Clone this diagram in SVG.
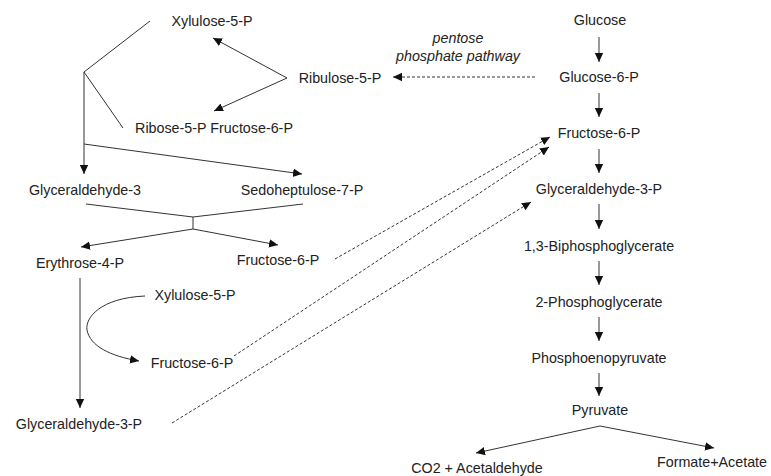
<svg xmlns="http://www.w3.org/2000/svg" width="771" height="476" viewBox="0 0 771 476">
<defs>
<marker id="ah" markerWidth="10" markerHeight="10" refX="9" refY="5" orient="auto" markerUnits="userSpaceOnUse">
<path d="M0,0.8 L9,5 L0,9.2 Z" fill="#111"/>
</marker>
<style>
text{font-family:"Liberation Sans",Arial,sans-serif;font-size:14.3px;fill:#222;text-anchor:middle;dominant-baseline:central}
.it{font-style:italic}
.c line,.c path,.c polyline{stroke:#333;stroke-width:1;fill:none}
.d{stroke-dasharray:3,2}
.a{marker-end:url(#ah)}
</style>
</defs>
<rect width="771" height="476" fill="#fff"/>
<g class="c" id="connectors">
<line class="a" x1="599" y1="37" x2="599" y2="62"/>
<line class="a" x1="599" y1="93" x2="599" y2="117"/>
<line class="a" x1="599" y1="149" x2="599" y2="173"/>
<line class="a" x1="599" y1="204" x2="599" y2="229"/>
<line class="a" x1="599" y1="261" x2="599" y2="285"/>
<line class="a" x1="599" y1="317" x2="599" y2="341"/>
<line class="a" x1="599" y1="373" x2="599" y2="396"/>
<line class="a" x1="600" y1="426" x2="476" y2="453"/>
<line class="a" x1="600" y1="426" x2="714" y2="448"/>
<line class="a d" x1="535" y1="77" x2="393" y2="77"/>
<line class="a" x1="287" y1="78" x2="213" y2="38"/>
<line class="a" x1="287" y1="78" x2="214" y2="111"/>
<polyline points="150,21 84,72 123,128"/>
<line class="a" x1="84" y1="72" x2="84" y2="174"/>
<line class="a" x1="84" y1="144" x2="302" y2="174"/>
<polyline points="86,204 193,217 303,204"/>
<line x1="193" y1="217" x2="193" y2="229"/>
<line class="a" x1="193" y1="229" x2="81" y2="247"/>
<line class="a" x1="193" y1="229" x2="278" y2="245"/>
<line class="a" x1="80" y1="278" x2="80" y2="408"/>
<path class="a" d="M145,296 C 100,298 85,318 87,330 C 90,346 110,356 139,361"/>
<line class="a d" x1="335" y1="259" x2="550" y2="137"/>
<line class="a d" x1="234" y1="356" x2="549" y2="147"/>
<line class="a d" x1="172" y1="423" x2="531" y2="202"/>
</g>
<g id="glucose"><text x="600" y="20">Glucose</text></g>
<g id="glucose6p"><text x="599" y="77">Glucose-6-P</text></g>
<g id="fructose6p"><text x="599" y="133">Fructose-6-P</text></g>
<g id="gap"><text x="599" y="189">Glyceraldehyde-3-P</text></g>
<g id="bpg"><text x="599" y="246">1,3-Biphosphoglycerate</text></g>
<g id="pg2"><text x="599" y="302">2-Phosphoglycerate</text></g>
<g id="pep"><text x="599" y="358">Phosphoenopyruvate</text></g>
<g id="pyruvate"><text x="600" y="410">Pyruvate</text></g>
<g id="co2"><text x="477" y="468">CO2 + Acetaldehyde</text></g>
<g id="formate"><text x="712" y="462">Formate+Acetate</text></g>
<g id="ppp-label"><text class="it" x="458" y="38">pentose</text><text class="it" x="458" y="56">phosphate pathway</text></g>
<g id="xylulose5p-top"><text x="212" y="21">Xylulose-5-P</text></g>
<g id="ribulose5p"><text x="340" y="78">Ribulose-5-P</text></g>
<g id="ribose-fructose"><text x="214" y="128">Ribose-5-P Fructose-6-P</text></g>
<g id="glyceraldehyde3"><text x="85" y="190">Glyceraldehyde-3</text></g>
<g id="sedoheptulose"><text x="302" y="190">Sedoheptulose-7-P</text></g>
<g id="erythrose"><text x="80" y="263">Erythrose-4-P</text></g>
<g id="fructose6p-mid"><text x="278" y="260">Fructose-6-P</text></g>
<g id="xylulose5p-low"><text x="195" y="295">Xylulose-5-P</text></g>
<g id="fructose6p-low"><text x="192" y="363">Fructose-6-P</text></g>
<g id="gap-low"><text x="79" y="424">Glyceraldehyde-3-P</text></g>
</svg>
